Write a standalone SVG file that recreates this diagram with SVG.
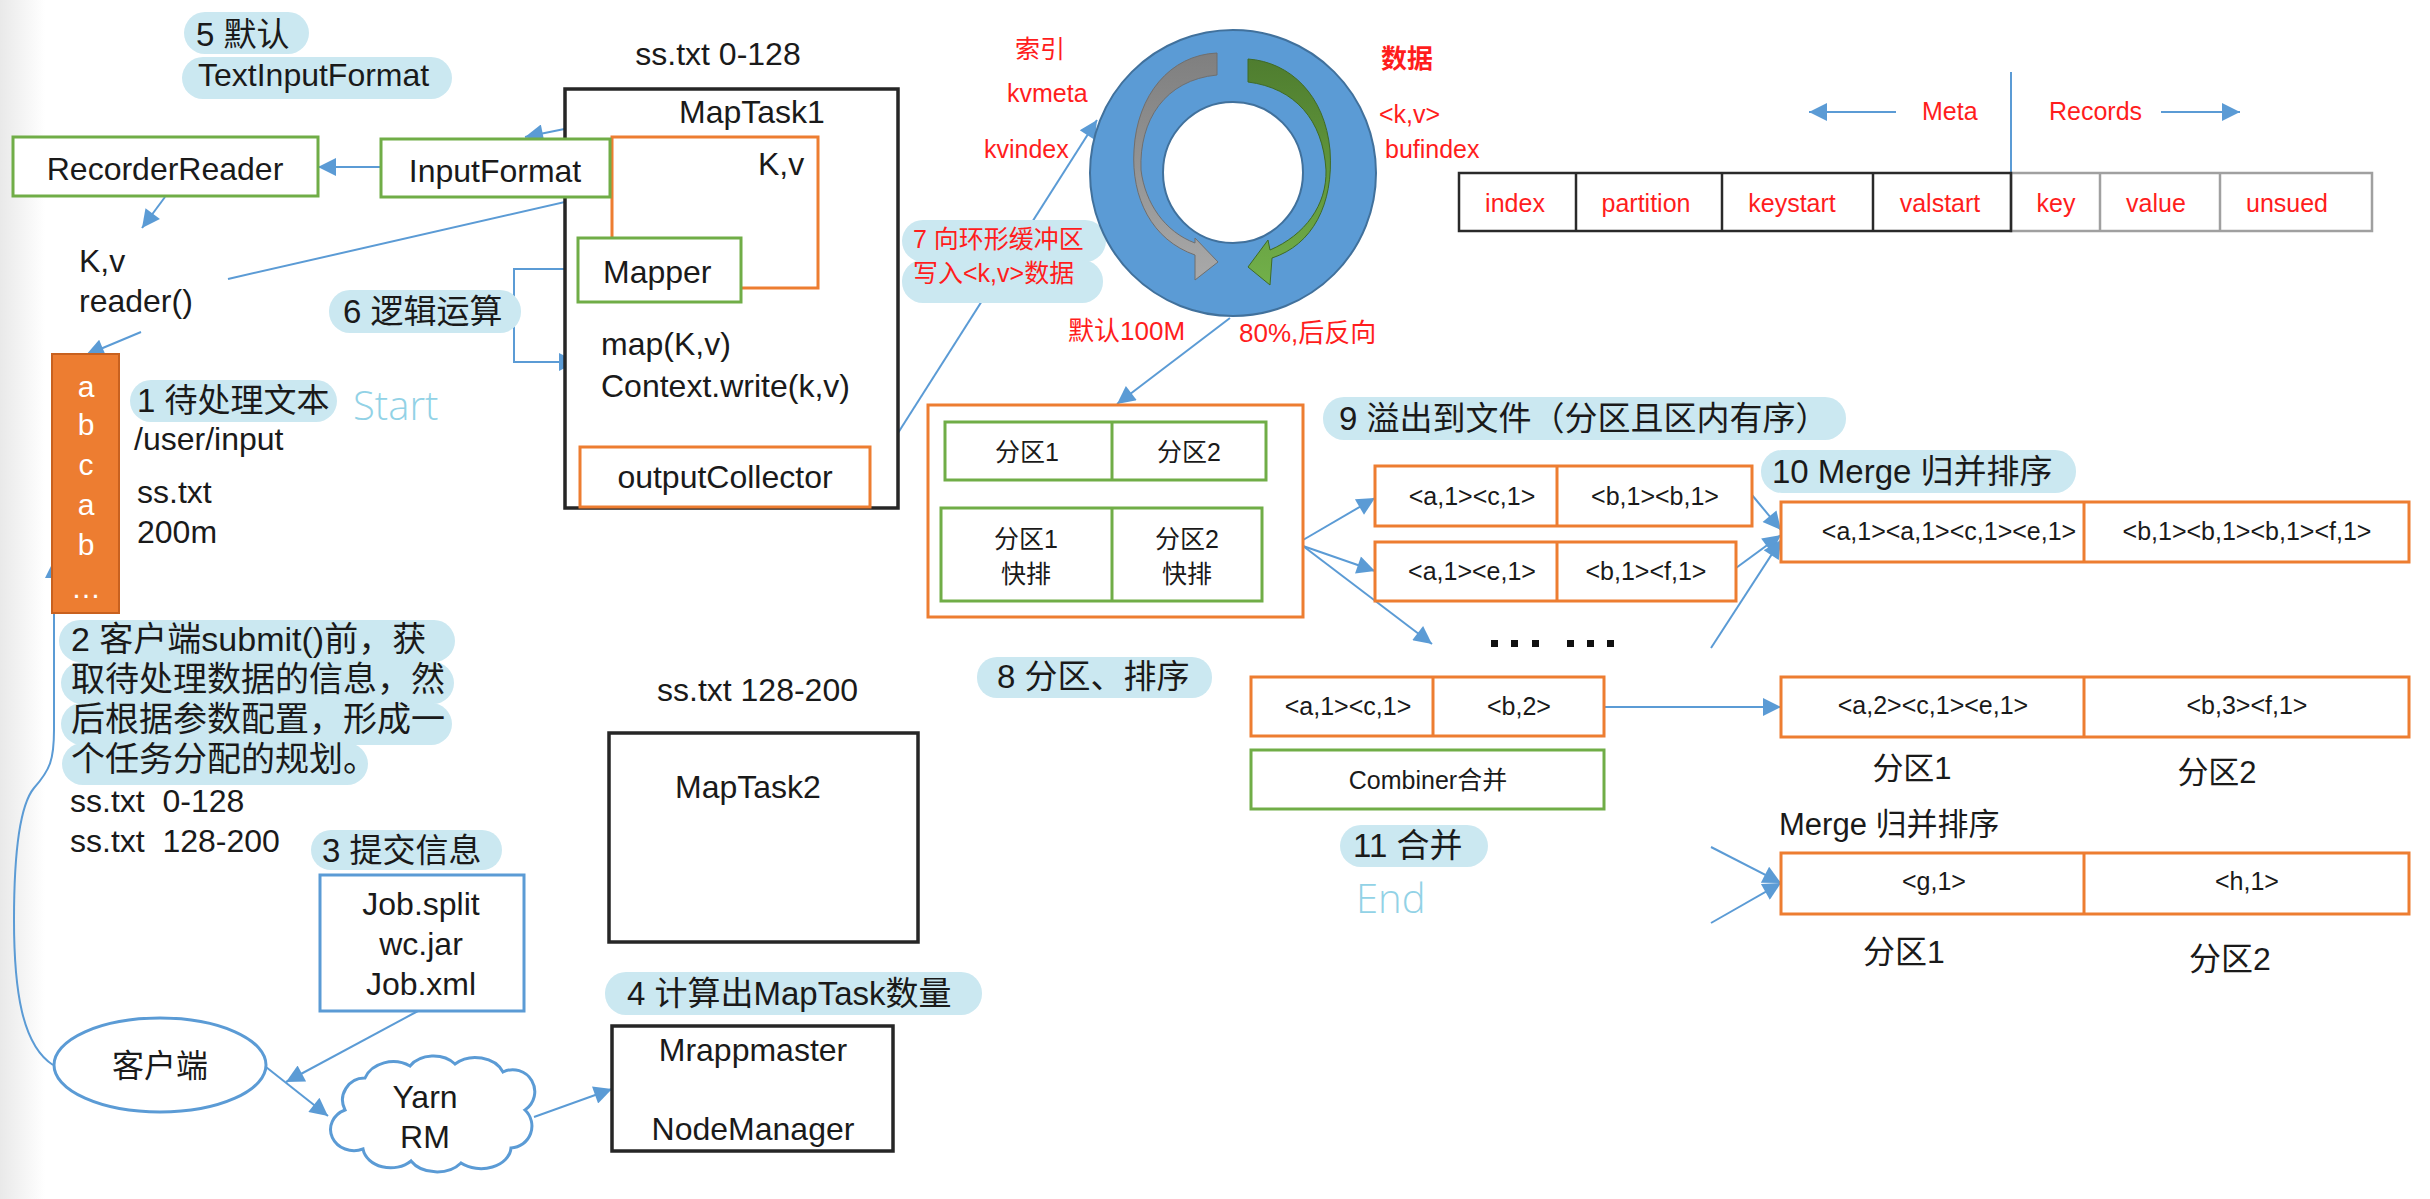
<svg xmlns="http://www.w3.org/2000/svg" width="2430" height="1199" viewBox="0 0 2430 1199">
<style>
.t{font-family:"Liberation Sans",Arial,"Noto Sans CJK SC",sans-serif;font-size:32px;fill:#1a1a1a}
.b{font-size:33px}
.s{font-size:25px}
.f24{font-size:24px}
.f26{font-size:26px}
.f31{font-size:31px}
.f34{font-size:34px}
.m{text-anchor:middle}
.red{fill:#ff1d1d}
.bold{font-weight:bold}
.bub{fill:#cbe8f1}
.gb{fill:#fff;stroke:#70ad47;stroke-width:3}
.ob{fill:#fff;stroke:#ed7d31;stroke-width:3}
.kb{fill:#fff;stroke:#262626;stroke-width:3.5}
.bl{fill:#fff;stroke:#5b9bd5;stroke-width:3}
.c{fill:none;stroke:#5b9bd5;stroke-width:2}
.ca{fill:none;stroke:#5b9bd5;stroke-width:2;marker-end:url(#ah)}
.se{font-family:"Open Sans","Liberation Sans",sans-serif;font-size:40px;font-weight:300;fill:#92d2e6}
.pre{white-space:pre}
</style>
<defs>
<marker id="ah" viewBox="0 0 10 10" refX="10" refY="5" markerUnits="userSpaceOnUse" markerWidth="22" markerHeight="18" orient="auto">
<path d="M0,0 L10,5 L0,10 z" fill="#5b9bd5"/>
</marker>
<linearGradient id="edge" x1="0" y1="0" x2="1" y2="0">
<stop offset="0" stop-color="#e9e9e9"/>
<stop offset="1" stop-color="#ffffff"/>
</linearGradient>
<linearGradient id="gGray" x1="0" y1="0" x2="0" y2="1">
<stop offset="0" stop-color="#7f7f7f"/>
<stop offset="1" stop-color="#a9a9a9"/>
</linearGradient>
<linearGradient id="gGreen" x1="0" y1="0" x2="0" y2="1">
<stop offset="0" stop-color="#4f7d2f"/>
<stop offset="1" stop-color="#72b04a"/>
</linearGradient>
</defs>
<rect x="0" y="0" width="2430" height="1199" fill="#fff"/>
<rect x="0" y="0" width="45" height="1199" fill="url(#edge)"/>

<g id="connectors">
<line class="ca" x1="381" y1="167" x2="318" y2="167"/>
<line class="ca" x1="165" y1="197" x2="142" y2="228"/>
<line class="ca" x1="141" y1="332" x2="86" y2="355"/>
<line class="ca" x1="653" y1="111" x2="525" y2="137"/>
<line class="ca" x1="228" y1="279" x2="731" y2="164"/>
<line class="ca" x1="784" y1="197" x2="662" y2="238"/>
<polyline class="ca" points="578,269 514,269 514,362 577,362"/>
<line class="ca" x1="734" y1="415" x2="726" y2="446"/>
<line class="ca" x1="870" y1="477" x2="1097" y2="120"/>
<path class="ca" d="M53 1065 C22 1045 14 990 14 920 C14 850 20 805 34 788 C50 770 54 760 54 730 L54 560"/>
<line class="ca" x1="418" y1="1011" x2="286" y2="1082"/>
<line class="ca" x1="266" y1="1067" x2="328" y2="1116"/>
<line class="ca" x1="534" y1="1117" x2="612" y2="1089"/>
<line class="ca" x1="1230" y1="318" x2="1117" y2="404"/>
<line class="c" x1="2011" y1="72" x2="2011" y2="202"/>
<line class="ca" x1="1896" y1="112" x2="1809" y2="112"/>
<line class="ca" x1="2161" y1="112" x2="2240" y2="112"/>
<line class="ca" x1="1303" y1="540" x2="1375" y2="498"/>
<line class="ca" x1="1303" y1="546" x2="1375" y2="571"/>
<line class="ca" x1="1303" y1="546" x2="1432" y2="644"/>
<line class="ca" x1="1752" y1="495" x2="1781" y2="530"/>
<line class="ca" x1="1736" y1="568" x2="1781" y2="535"/>
<line class="ca" x1="1711" y1="648" x2="1781" y2="540"/>
<line class="ca" x1="1604" y1="707" x2="1781" y2="707"/>
<line class="ca" x1="1711" y1="847" x2="1781" y2="883"/>
<line class="ca" x1="1711" y1="923" x2="1781" y2="883"/>
</g>

<g id="label5">
<rect class="bub" x="184" y="12" width="125" height="42" rx="21"/>
<text class="t b" x="196" y="46">5 默认</text>
<rect class="bub" x="182" y="57" width="270" height="42" rx="21"/>
<text class="t" x="198" y="86">TextInputFormat</text>
</g>

<g id="recorderReader">
<rect class="gb" x="13" y="137" width="305" height="59"/>
<text class="t m" x="165" y="180">RecorderReader</text>
</g>

<g id="readerText">
<text class="t" x="79" y="272">K,v</text>
<text class="t" x="79" y="312">reader()</text>
</g>

<g id="mapTask1">
<text class="t m" x="718" y="65">ss.txt 0-128</text>
<rect class="kb" x="565" y="89" width="333" height="419"/>
<text class="t" x="679" y="123">MapTask1</text>
<rect x="612" y="137" width="206" height="151" fill="none" stroke="#ed7d31" stroke-width="3"/>
<text class="t" x="758" y="175">K,v</text>
<rect class="gb" x="578" y="238" width="163" height="64"/>
<text class="t" x="603" y="283">Mapper</text>
<text class="t" x="601" y="355">map(K,v)</text>
<text class="t" x="601" y="397">Context.write(k,v)</text>
<rect class="ob" x="580" y="447" width="290" height="60"/>
<text class="t m" x="725" y="488">outputCollector</text>
</g>

<g id="inputFormat">
<rect class="gb" x="381" y="139" width="229" height="58"/>
<text class="t m" x="495" y="182">InputFormat</text>
</g>

<g id="label6">
<rect class="bub" x="329" y="290" width="192" height="43" rx="21"/>
<text class="t b" x="343" y="323">6 逻辑运算</text>
</g>

<g id="inputFile">
<rect x="52" y="354" width="67" height="259" fill="#ed7d31" stroke="#c8611f" stroke-width="2"/>
<g font-family="Liberation Sans,Arial,sans-serif" font-size="30" fill="#fff" text-anchor="middle">
<text x="86" y="397">a</text>
<text x="86" y="435">b</text>
<text x="86" y="475">c</text>
<text x="86" y="515">a</text>
<text x="86" y="555">b</text>
<text x="86" y="598">…</text>
</g>
</g>

<g id="label1">
<rect class="bub" x="130" y="380" width="207" height="42" rx="21"/>
<text class="t b" x="137" y="412">1 待处理文本</text>
<text class="se" x="353" y="420">Start</text>
<text class="t" x="134" y="450">/user/input</text>
<text class="t" x="137" y="503">ss.txt</text>
<text class="t" x="137" y="543">200m</text>
</g>

<g id="label2">
<rect class="bub" x="59" y="620" width="396" height="42" rx="21"/>
<rect class="bub" x="61" y="662" width="393" height="42" rx="21"/>
<rect class="bub" x="61" y="703" width="391" height="42" rx="21"/>
<rect class="bub" x="62" y="743" width="306" height="42" rx="21"/>
<text class="t f34" x="71" y="651">2 客户端submit()前，获</text>
<text class="t f34" x="71" y="691">取待处理数据的信息，然</text>
<text class="t f34" x="71" y="731">后根据参数配置，形成一</text>
<text class="t f34" x="71" y="771">个任务分配的规划。</text>
<text class="t pre" x="70" y="812">ss.txt  0-128</text>
<text class="t pre" x="70" y="852">ss.txt  128-200</text>
</g>

<g id="label3">
<rect class="bub" x="311" y="830" width="191" height="40" rx="20"/>
<text class="t b" x="322" y="862">3 提交信息</text>
</g>

<g id="jobFiles">
<rect class="bl" x="320" y="875" width="204" height="136"/>
<text class="t m" x="421" y="915">Job.split</text>
<text class="t m" x="421" y="955">wc.jar</text>
<text class="t m" x="421" y="995">Job.xml</text>
</g>

<g id="client">
<ellipse class="bl" cx="160" cy="1065" rx="106" ry="47"/>
<text class="t m" x="160" y="1077">客户端</text>
</g>

<g id="yarnRM">
<path class="bl" d="M345 1110 a22 22 0 0 1 20 -32 a30 25 0 0 1 45 -12 a28 22 0 0 1 45 -2 a30 24 0 0 1 48 8 a22 22 0 0 1 22 38 a22 22 0 0 1 -14 38 a30 22 0 0 1 -50 15 a30 22 0 0 1 -50 -2 a28 22 0 0 1 -48 -12 a20 18 0 0 1 -18 -39 z"/>
<text class="t m" x="425" y="1108">Yarn</text>
<text class="t m" x="425" y="1148">RM</text>
</g>

<g id="mapTask2">
<text class="t" x="657" y="701">ss.txt 128-200</text>
<rect class="kb" x="609" y="733" width="309" height="209"/>
<text class="t" x="675" y="798">MapTask2</text>
</g>

<g id="label4">
<rect class="bub" x="605" y="972" width="377" height="43" rx="21"/>
<text class="t b" x="627" y="1005">4 计算出MapTask数量</text>
</g>

<g id="mrAppMaster">
<rect class="kb" x="612" y="1026" width="281" height="125"/>
<text class="t m" x="753" y="1061">Mrappmaster</text>
<text class="t m" x="753" y="1140">NodeManager</text>
</g>

<g id="label7">
<rect class="bub" x="902" y="220" width="204" height="42" rx="21"/>
<rect class="bub" x="902" y="260" width="201" height="43" rx="21"/>
<text class="t s red" x="913" y="248">7 向环形缓冲区</text>
<text class="t s red" x="913" y="282">写入&lt;k,v&gt;数据</text>
</g>

<g id="ringBuffer">
<ellipse cx="1233" cy="173" rx="143" ry="143" fill="#5b9bd5" stroke="#41719c" stroke-width="2"/>
<ellipse cx="1233" cy="172.5" rx="70" ry="70.5" fill="#fff" stroke="#41719c" stroke-width="2"/>
<path d="M1217 53 C1170 55 1137 95 1134 150 C1131 198 1152 240 1195 255 L1195 280 L1218 262 L1195 238 L1195 243 C1165 232 1145 203 1141 170 C1139 120 1165 80 1217 75 Z" fill="url(#gGray)" stroke="#6f6f6f" stroke-width="1"/>
<path d="M1248 59 C1290 62 1325 95 1330 150 C1334 205 1312 245 1272 258 L1270 285 L1248 267 L1268 240 L1270 250 C1305 235 1327 205 1326 170 C1323 120 1295 88 1248 82 Z" fill="url(#gGreen)" stroke="#3f6b25" stroke-width="1"/>
</g>

<g id="ringLabels">
<text class="t s red" x="1015" y="58">索引</text>
<text class="t s red" x="1007" y="102">kvmeta</text>
<text class="t s red" x="984" y="158">kvindex</text>
<text class="t f26 red bold" x="1381" y="68">数据</text>
<text class="t s red" x="1379" y="123">&lt;k,v&gt;</text>
<text class="t s red" x="1385" y="158">bufindex</text>
<text class="t f26 red" x="1068" y="340">默认100M</text>
<text class="t f26 red" x="1239" y="342">80%,后反向</text>
</g>

<g id="metaTable">
<rect x="2011" y="173" width="361" height="58" fill="none" stroke="#a0a0a0" stroke-width="2.5"/>
<line x1="2100" y1="173" x2="2100" y2="231" stroke="#a0a0a0" stroke-width="2.5"/>
<line x1="2220" y1="173" x2="2220" y2="231" stroke="#a0a0a0" stroke-width="2.5"/>
<rect x="1459" y="173" width="552" height="58" fill="none" stroke="#2a2a2a" stroke-width="2.5"/>
<line x1="1576" y1="173" x2="1576" y2="231" stroke="#2a2a2a" stroke-width="2.5"/>
<line x1="1722" y1="173" x2="1722" y2="231" stroke="#2a2a2a" stroke-width="2.5"/>
<line x1="1873" y1="173" x2="1873" y2="231" stroke="#2a2a2a" stroke-width="2.5"/>
<text class="t s red m" x="1515" y="212">index</text>
<text class="t s red m" x="1646" y="212">partition</text>
<text class="t s red m" x="1792" y="212">keystart</text>
<text class="t s red m" x="1940" y="212">valstart</text>
<text class="t s red m" x="2056" y="212">key</text>
<text class="t s red m" x="2156" y="212">value</text>
<text class="t s red m" x="2287" y="212">unsued</text>
<text class="t s red" x="1922" y="120">Meta</text>
<text class="t s red" x="2049" y="120">Records</text>
</g>

<g id="partitionSort">
<rect class="ob" x="928" y="405" width="375" height="212"/>
<rect class="gb" x="945" y="422" width="321" height="58"/>
<line x1="1112" y1="422" x2="1112" y2="480" stroke="#70ad47" stroke-width="3"/>
<rect class="gb" x="941" y="508" width="321" height="93"/>
<line x1="1112" y1="508" x2="1112" y2="601" stroke="#70ad47" stroke-width="3"/>
<text class="t s m" x="1027" y="461">分区1</text>
<text class="t s m" x="1189" y="461">分区2</text>
<text class="t s m" x="1026" y="548">分区1</text>
<text class="t s m" x="1026" y="583">快排</text>
<text class="t s m" x="1187" y="548">分区2</text>
<text class="t s m" x="1187" y="583">快排</text>
</g>

<g id="label8">
<rect class="bub" x="977" y="657" width="235" height="41" rx="20"/>
<text class="t b" x="997" y="688">8 分区、排序</text>
</g>

<g id="label9">
<rect class="bub" x="1323" y="397" width="523" height="43" rx="21"/>
<text class="t b" x="1339" y="430">9 溢出到文件（分区且区内有序）</text>
</g>

<g id="spill1">
<rect class="ob" x="1375" y="466" width="377" height="60"/>
<line x1="1557" y1="466" x2="1557" y2="526" stroke="#ed7d31" stroke-width="3"/>
<text class="t s m" x="1472" y="505">&lt;a,1&gt;&lt;c,1&gt;</text>
<text class="t s m" x="1655" y="505">&lt;b,1&gt;&lt;b,1&gt;</text>
</g>

<g id="spill2">
<rect class="ob" x="1375" y="542" width="361" height="59"/>
<line x1="1557" y1="542" x2="1557" y2="601" stroke="#ed7d31" stroke-width="3"/>
<text class="t s m" x="1472" y="580">&lt;a,1&gt;&lt;e,1&gt;</text>
<text class="t s m" x="1646" y="580">&lt;b,1&gt;&lt;f,1&gt;</text>
</g>

<g id="moreSpills" fill="#111">
<rect x="1491" y="640" width="7" height="7"/>
<rect x="1511" y="640" width="7" height="7"/>
<rect x="1532" y="640" width="7" height="7"/>
<rect x="1567" y="640" width="7" height="7"/>
<rect x="1587" y="640" width="7" height="7"/>
<rect x="1607" y="640" width="7" height="7"/>
</g>

<g id="label10">
<rect class="bub" x="1761" y="450" width="315" height="43" rx="21"/>
<text class="t b" x="1772" y="483">10 Merge 归并排序</text>
</g>

<g id="merged1">
<rect class="ob" x="1781" y="502" width="628" height="60"/>
<line x1="2084" y1="502" x2="2084" y2="562" stroke="#ed7d31" stroke-width="3"/>
<text class="t s m" x="1949" y="540">&lt;a,1&gt;&lt;a,1&gt;&lt;c,1&gt;&lt;e,1&gt;</text>
<text class="t s m" x="2247" y="540">&lt;b,1&gt;&lt;b,1&gt;&lt;b,1&gt;&lt;f,1&gt;</text>
</g>

<g id="combinerRow">
<rect class="ob" x="1251" y="677" width="353" height="59"/>
<line x1="1433" y1="677" x2="1433" y2="736" stroke="#ed7d31" stroke-width="3"/>
<text class="t s m" x="1348" y="715">&lt;a,1&gt;&lt;c,1&gt;</text>
<text class="t s m" x="1519" y="715">&lt;b,2&gt;</text>
</g>

<g id="combiner">
<rect class="gb" x="1251" y="750" width="353" height="59"/>
<text class="t s m" x="1428" y="789">Combiner合并</text>
</g>

<g id="label11">
<rect class="bub" x="1340" y="825" width="148" height="42" rx="21"/>
<text class="t b" x="1353" y="857">11 合并</text>
<text class="se" x="1356" y="913">End</text>
</g>

<g id="merged2">
<rect class="ob" x="1781" y="677" width="628" height="60"/>
<line x1="2084" y1="677" x2="2084" y2="737" stroke="#ed7d31" stroke-width="3"/>
<text class="t s m" x="1933" y="714">&lt;a,2&gt;&lt;c,1&gt;&lt;e,1&gt;</text>
<text class="t s m" x="2247" y="714">&lt;b,3&gt;&lt;f,1&gt;</text>
<text class="t f31 m" x="1912" y="779">分区1</text>
<text class="t f31 m" x="2217" y="783">分区2</text>
</g>

<g id="merged3">
<text class="t f31" x="1779" y="835">Merge 归并排序</text>
<rect class="ob" x="1781" y="853" width="628" height="61"/>
<line x1="2084" y1="853" x2="2084" y2="914" stroke="#ed7d31" stroke-width="3"/>
<text class="t s m" x="1934" y="890">&lt;g,1&gt;</text>
<text class="t s m" x="2247" y="890">&lt;h,1&gt;</text>
<text class="t m" x="1904" y="963">分区1</text>
<text class="t m" x="2230" y="970">分区2</text>
</g>
</svg>
